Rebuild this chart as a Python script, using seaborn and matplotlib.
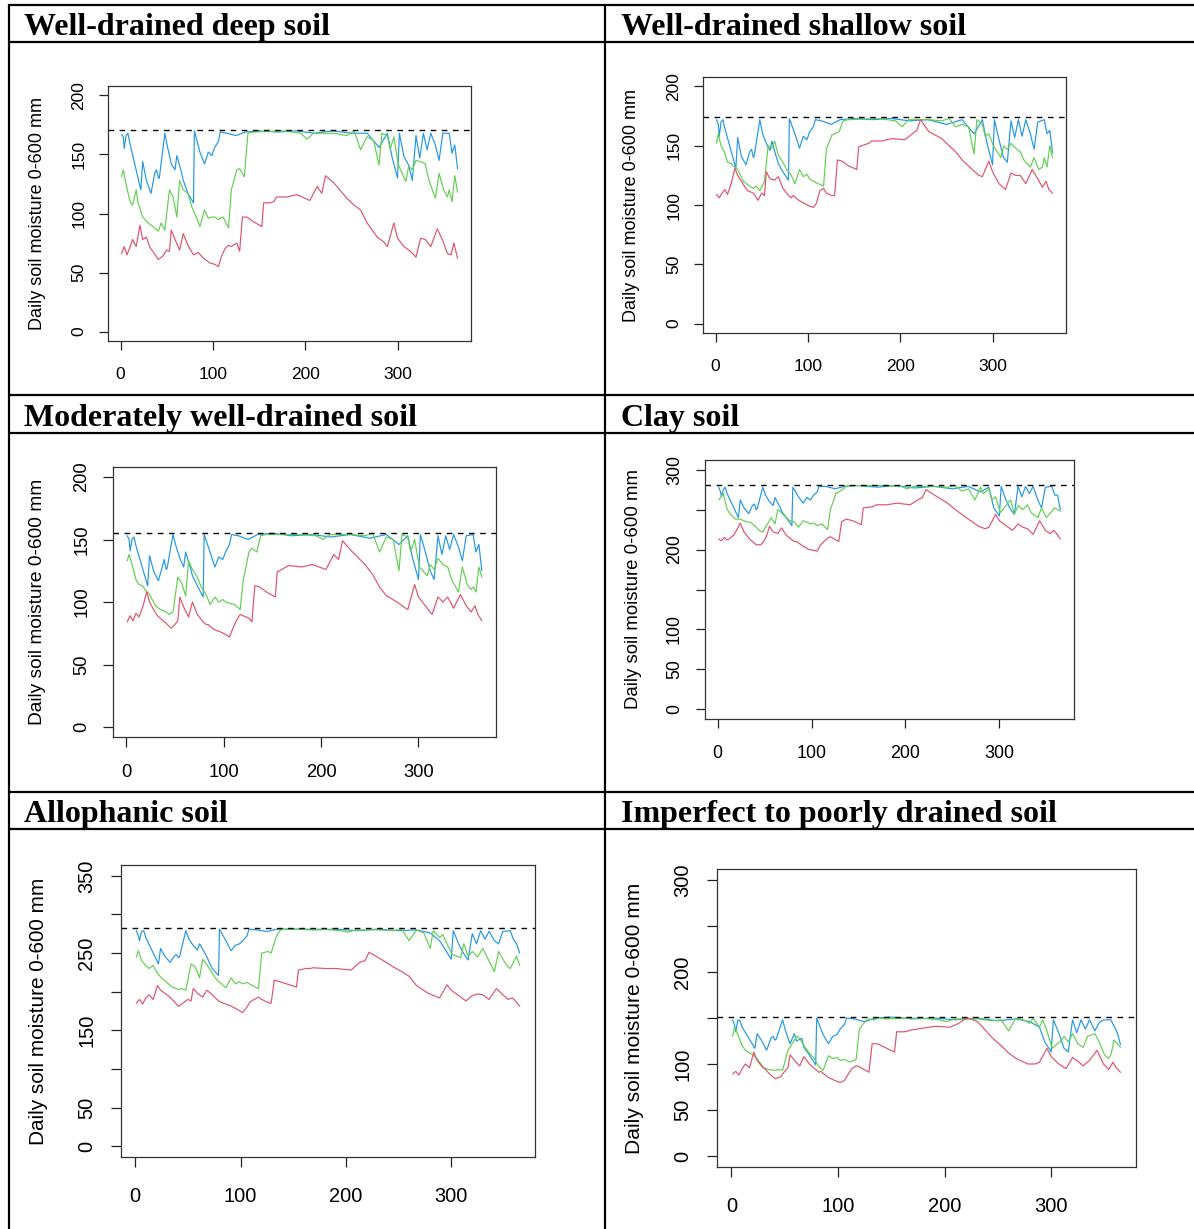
import matplotlib
matplotlib.use("Agg")
import matplotlib.pyplot as plt
from matplotlib import font_manager
import pandas as pd
import seaborn as sns

# ---------------- data ----------------
BLUE_DAYS = [1, 3, 4, 6, 8, 10, 22, 24, 28, 33, 37, 39, 41, 42, 48, 51, 55, 59, 61, 66,
             68, 73, 79, 80, 86, 91, 95, 99, 102, 106, 108, 115, 125, 135, 150, 170, 190, 210, 230, 250,
             267, 280, 289, 294, 300, 302, 307, 312, 316, 320, 324, 328, 332, 336, 341, 345, 349, 356, 359, 362, 365]
GREEN_DAYS = [1, 3, 6, 10, 13, 17, 19, 24, 30, 35, 41, 44, 48, 53, 57, 61, 64, 68, 73, 77,
              82, 86, 91, 95, 99, 102, 106, 111, 117, 120, 126, 129, 134, 138, 144, 176, 195, 202, 209, 231,
              245, 253, 260, 267, 274, 280, 283, 289, 292, 296, 301, 309, 312, 316, 320, 325, 330, 334, 341, 345,
              350, 354, 356, 359, 362, 365]
RED_DAYS = [1, 4, 7, 10, 13, 17, 21, 24, 28, 32, 35, 41, 46, 50, 53, 55, 59, 64, 68, 73,
            79, 82, 84, 90, 97, 102, 106, 109, 113, 117, 120, 126, 129, 132, 137, 144, 153, 155, 162, 166,
            169, 180, 191, 205, 213, 218, 222, 231, 245, 253, 260, 267, 278, 285, 289, 296, 300, 307, 314, 320,
            325, 330, 336, 343, 349, 354, 358, 361, 365]

TITLES = ["Well-drained deep soil", "Well-drained shallow soil", "Moderately well-drained soil",
          "Clay soil", "Allophanic soil", "Imperfect to poorly drained soil"]
FIELD_CAPACITY = [171, 174, 155, 281, 282, 151]
Y_MAX = [200, 200, 200, 300, 350, 300]
Y_LABELS_SHOWN = [[0, 50, 100, 150, 200], [0, 50, 100, 150, 200], [0, 50, 100, 150, 200],
                  [0, 50, 100, 200, 300], [0, 50, 150, 250, 350], [0, 50, 100, 200, 300]]
X_TICKS = [0, 100, 200, 300]
Y_AXIS_LABEL = "Daily soil moisture 0-600 mm"

P1_BLUE = [167, 165, 155, 166, 168, 160, 120, 144, 128, 117, 134, 137, 130, 130, 168, 156, 142, 137, 149, 135,
           128, 117, 109, 170, 152, 142, 152, 149, 156, 161, 169, 168, 166, 169, 170, 169, 170, 168, 170, 168,
           168, 156, 168, 148, 130, 168, 148, 141, 128, 166, 147, 168, 154, 168, 158, 145, 168, 168, 151, 158, 138]
P1_GREEN = [131, 137, 125, 111, 107, 120, 109, 97, 92, 89, 85, 92, 86, 120, 114, 97, 128, 120, 117, 106,
            97, 89, 103, 96, 97, 97, 95, 97, 88, 120, 137, 138, 131, 168, 169, 170, 168, 163, 168, 168,
            166, 170, 154, 165, 162, 141, 168, 166, 154, 165, 141, 127, 140, 137, 145, 144, 142, 128, 113, 134,
            120, 114, 120, 110, 132, 118]
P1_RED = [66, 72, 65, 71, 78, 72, 90, 78, 80, 71, 68, 61, 64, 69, 68, 86, 78, 69, 83, 73,
          65, 66, 67, 62, 58, 57, 55, 63, 70, 73, 72, 75, 68, 97, 97, 93, 89, 109, 109, 110,
          114, 114, 116, 111, 123, 117, 132, 126, 113, 107, 103, 92, 80, 76, 72, 92, 79, 72, 68, 63,
          79, 78, 72, 87, 77, 66, 65, 75, 62]

P2_BLUE = [172, 168, 158, 170, 172, 165, 131, 157, 141, 134, 145, 147, 140, 142, 172, 160, 152, 146, 154, 140,
           135, 128, 121, 173, 160, 148, 158, 155, 162, 166, 172, 171, 168, 172, 173, 172, 173, 171, 172, 168,
           172, 160, 172, 152, 134, 172, 155, 140, 136, 171, 157, 172, 158, 172, 160, 147, 170, 172, 160, 163, 144]
P2_GREEN = [152, 160, 150, 144, 136, 135, 133, 130, 120, 117, 114, 116, 112, 120, 150, 148, 154, 142, 136, 130,
            125, 118, 130, 124, 126, 122, 120, 118, 116, 147, 159, 160, 162, 171, 172, 173, 171, 166, 172, 172,
            171, 173, 166, 168, 166, 143, 172, 168, 158, 160, 150, 140, 150, 147, 152, 148, 145, 138, 132, 140,
            130, 132, 140, 132, 150, 140]
P2_RED = [109, 106, 110, 113, 109, 118, 131, 125, 120, 115, 112, 110, 104, 110, 108, 128, 122, 121, 124, 114,
          108, 106, 108, 104, 101, 99, 98, 101, 112, 114, 110, 108, 108, 138, 137, 133, 130, 149, 151, 152,
          154, 154, 156, 155, 160, 163, 172, 162, 156, 150, 145, 138, 130, 125, 124, 137, 128, 118, 113, 127,
          125, 125, 118, 130, 122, 115, 120, 113, 110]

P3_BLUE = [153, 150, 141, 150, 152, 145, 113, 137, 125, 117, 128, 134, 126, 127, 154, 145, 135, 128, 140, 127,
           121, 113, 104, 154, 140, 128, 136, 134, 140, 146, 154, 153, 150, 154, 155, 153, 154, 152, 154, 151,
           154, 146, 153, 135, 118, 154, 140, 125, 118, 153, 138, 153, 142, 154, 144, 133, 153, 154, 140, 146, 125]
P3_GREEN = [133, 138, 130, 118, 114, 113, 110, 106, 97, 94, 92, 90, 92, 120, 115, 105, 133, 126, 120, 112,
            106, 98, 104, 100, 102, 100, 99, 98, 94, 117, 140, 143, 140, 153, 154, 154, 153, 150, 154, 154,
            153, 155, 140, 152, 150, 125, 154, 152, 140, 150, 128, 121, 130, 126, 135, 130, 128, 118, 108, 128,
            114, 110, 112, 108, 128, 120]
P3_RED = [84, 89, 85, 91, 88, 96, 108, 100, 94, 89, 87, 83, 79, 82, 85, 104, 96, 88, 100, 90,
          84, 82, 82, 78, 76, 74, 72, 78, 85, 90, 89, 87, 84, 113, 112, 108, 104, 124, 127, 129,
          129, 128, 130, 126, 138, 134, 149, 141, 130, 122, 112, 105, 100, 96, 94, 114, 104, 97, 90, 104,
          100, 104, 95, 106, 97, 92, 97, 90, 85]

P4_BLUE = [278, 272, 266, 275, 278, 270, 240, 262, 252, 245, 255, 257, 250, 251, 278, 268, 260, 255, 265, 254,
           248, 240, 230, 278, 266, 258, 265, 262, 268, 272, 279, 279, 276, 279, 280, 278, 280, 277, 279, 276,
           279, 272, 278, 252, 242, 279, 262, 250, 244, 279, 266, 279, 270, 279, 262, 252, 278, 279, 268, 268, 250]
P4_GREEN = [262, 265, 270, 250, 245, 240, 238, 238, 235, 234, 228, 224, 222, 232, 240, 232, 250, 246, 240, 236,
            234, 228, 236, 234, 232, 233, 230, 232, 225, 250, 270, 272, 276, 280, 280, 280, 279, 276, 279, 279,
            278, 280, 273, 276, 262, 278, 270, 276, 262, 266, 246, 258, 262, 244, 255, 250, 256, 246, 240, 252,
            240, 245, 248, 252, 250, 248]
P4_RED = [213, 211, 215, 212, 214, 218, 226, 233, 222, 216, 212, 206, 206, 212, 220, 229, 222, 220, 227, 218,
          212, 210, 210, 205, 200, 199, 198, 205, 210, 214, 216, 212, 210, 235, 238, 236, 231, 252, 253, 254,
          256, 256, 258, 256, 262, 265, 275, 268, 258, 250, 244, 238, 229, 226, 228, 244, 236, 230, 224, 232,
          228, 226, 219, 236, 224, 220, 224, 220, 213]

P5_BLUE = [279, 272, 266, 278, 279, 270, 236, 256, 246, 238, 246, 248, 244, 245, 279, 268, 260, 254, 262, 250,
           245, 230, 221, 281, 266, 253, 260, 262, 266, 272, 281, 280, 278, 281, 281, 280, 281, 279, 281, 279,
           280, 276, 266, 255, 242, 279, 262, 249, 241, 275, 262, 279, 268, 278, 266, 262, 278, 279, 268, 262, 250]
P5_GREEN = [245, 253, 240, 234, 230, 234, 228, 219, 212, 206, 203, 204, 202, 236, 232, 218, 242, 235, 224, 216,
            210, 205, 218, 210, 213, 210, 212, 208, 204, 250, 252, 250, 272, 280, 281, 281, 279, 277, 280, 280,
            279, 281, 266, 280, 276, 256, 279, 270, 274, 262, 248, 244, 262, 246, 252, 245, 256, 245, 226, 252,
            240, 232, 230, 238, 246, 234]
P5_RED = [185, 190, 184, 192, 196, 190, 208, 202, 198, 194, 190, 181, 186, 190, 188, 204, 198, 193, 202, 196,
          188, 186, 185, 182, 177, 173, 180, 187, 190, 193, 190, 186, 185, 215, 213, 210, 206, 228, 230, 230,
          231, 230, 230, 228, 238, 240, 251, 244, 232, 226, 220, 208, 198, 194, 192, 209, 202, 195, 188, 195,
          197, 196, 190, 204, 196, 190, 192, 188, 181]

P6_BLUE = [148, 142, 135, 148, 147, 140, 117, 133, 126, 115, 128, 130, 126, 127, 148, 135, 122, 133, 125, 128,
           118, 110, 99, 150, 132, 122, 130, 132, 138, 143, 150, 149, 146, 150, 151, 149, 150, 148, 150, 147,
           149, 146, 140, 124, 113, 148, 134, 117, 113, 148, 134, 148, 138, 148, 136, 145, 148, 148, 141, 134, 121]
P6_GREEN = [130, 140, 132, 120, 115, 112, 111, 106, 96, 94, 93, 94, 93, 115, 122, 130, 128, 120, 112, 107,
            97, 93, 109, 106, 107, 104, 105, 102, 105, 138, 147, 149, 148, 150, 149, 150, 148, 146, 149, 149,
            147, 148, 136, 150, 148, 144, 150, 140, 148, 136, 117, 125, 130, 124, 133, 122, 118, 130, 133, 124,
            110, 106, 110, 126, 122, 118]
P6_RED = [89, 92, 88, 95, 100, 96, 113, 104, 98, 94, 90, 84, 86, 92, 96, 110, 104, 98, 108, 100,
          94, 91, 92, 86, 82, 80, 82, 88, 95, 98, 97, 93, 91, 122, 122, 118, 113, 135, 135, 136,
          137, 139, 141, 140, 144, 148, 150, 146, 128, 120, 112, 106, 100, 100, 102, 117, 108, 100, 95, 107,
          103, 98, 104, 115, 100, 94, 102, 96, 91]

SERIES = [(P1_BLUE, P1_GREEN, P1_RED), (P2_BLUE, P2_GREEN, P2_RED), (P3_BLUE, P3_GREEN, P3_RED),
          (P4_BLUE, P4_GREEN, P4_RED), (P5_BLUE, P5_GREEN, P5_RED), (P6_BLUE, P6_GREEN, P6_RED)]
COLORS = {"blue": "#2297E6", "green": "#61D04F", "red": "#DF536B"}

# ---------------- layout (pixels in the 1194 x 1229 canvas) ----------------
W, H = 1194, 1229
# plot boxes: x0, y0, x1, y1 ; y-label centre x ; scale
BOXES = [(108, 86, 471, 341, 38, 1.00),
         (703, 77, 1066, 333, 632, 1.00),
         (113, 467, 496, 737, 38, 1.06),
         (705, 460, 1074, 719, 633, 1.03),
         (121, 865, 535, 1157, 39, 1.15),
         (717, 869, 1136, 1167, 634, 1.16)]
HEAD_POS = [(24, 35), (621, 35), (24, 426), (621, 426), (24, 822), (621, 822)]

sns.set_theme(style="white")
names = {f.name for f in font_manager.fontManager.ttflist}
SANS = "Liberation Sans Narrow" if "Liberation Sans Narrow" in names else "Liberation Sans"
plt.rcParams['font.family'] = [SANS, 'DejaVu Sans']
plt.rcParams['text.color'] = 'black'

fig = plt.figure(figsize=(W / 100, H / 100), dpi=100)
fig.patch.set_facecolor("white")

bg = fig.add_axes([0, 0, 1, 1], zorder=-5)
bg.set_xlim(0, W)
bg.set_ylim(H, 0)
bg.axis("off")
lw_tab = 1.6
for y in [5, 42, 395, 433, 792, 829]:
    bg.plot([8, W], [y, y], color="black", lw=lw_tab, solid_capstyle="butt")
for x in [9, 605]:
    bg.plot([x, x], [4, H], color="black", lw=lw_tab, solid_capstyle="butt")

for i, (box, ser) in enumerate(zip(BOXES, SERIES)):
    x0, y0, x1, y1, ylx, s = box
    ax = fig.add_axes([x0 / W, 1 - y1 / H, (x1 - x0) / W, (y1 - y0) / H])
    blue, green, red = ser
    df = pd.concat([
        pd.DataFrame({"day": BLUE_DAYS, "mm": blue, "run": "blue"}),
        pd.DataFrame({"day": GREEN_DAYS, "mm": green, "run": "green"}),
        pd.DataFrame({"day": RED_DAYS, "mm": red, "run": "red"}),
    ], ignore_index=True)
    sns.lineplot(data=df, x="day", y="mm", hue="run", hue_order=["blue", "green", "red"],
                 palette=COLORS, estimator=None, sort=False, legend=False, lw=0.85, ax=ax)
    ax.axhline(FIELD_CAPACITY[i], color="black", lw=1.0, ls=(0, (4, 4)))
    ymax = Y_MAX[i]
    ax.set_xlim(1 - 0.04 * 364, 365 + 0.04 * 364)
    ax.set_ylim(-0.04 * ymax, 1.04 * ymax)
    ax.set_xlabel("")
    ax.set_ylabel("")
    ax.set_xticks(X_TICKS)
    ax.set_xticklabels([str(t) for t in X_TICKS])
    yt = list(range(0, ymax + 1, 50))
    ax.set_yticks(yt)
    ax.set_yticklabels([str(t) if t in Y_LABELS_SHOWN[i] else "" for t in yt],
                       rotation=90, va="center")
    fs = 12.5 * s
    ax.tick_params(axis="both", direction="out", length=6.5 * s, width=0.9,
                   colors="#222222", labelsize=fs, labelcolor="black")
    ax.tick_params(axis="x", pad=12 * s, bottom=True)
    ax.tick_params(axis="y", pad=9 * s, left=True)
    for sp in ax.spines.values():
        sp.set_visible(True)
        sp.set_color("#333333")
        sp.set_linewidth(0.9)
    ax.set_facecolor("white")
    fig.text(ylx / W, 1 - ((y0 + y1) / 2) / H, Y_AXIS_LABEL, rotation=90,
             ha="center", va="center", fontsize=13 * s, color="black")
    hx, hy = HEAD_POS[i]
    fig.text(hx / W, 1 - hy / H, TITLES[i], ha="left", va="baseline", color="black",
             fontsize=23, fontweight="bold", family=["Liberation Serif", "DejaVu Serif"])

fig.savefig("out.png", dpi=100, facecolor="white")
